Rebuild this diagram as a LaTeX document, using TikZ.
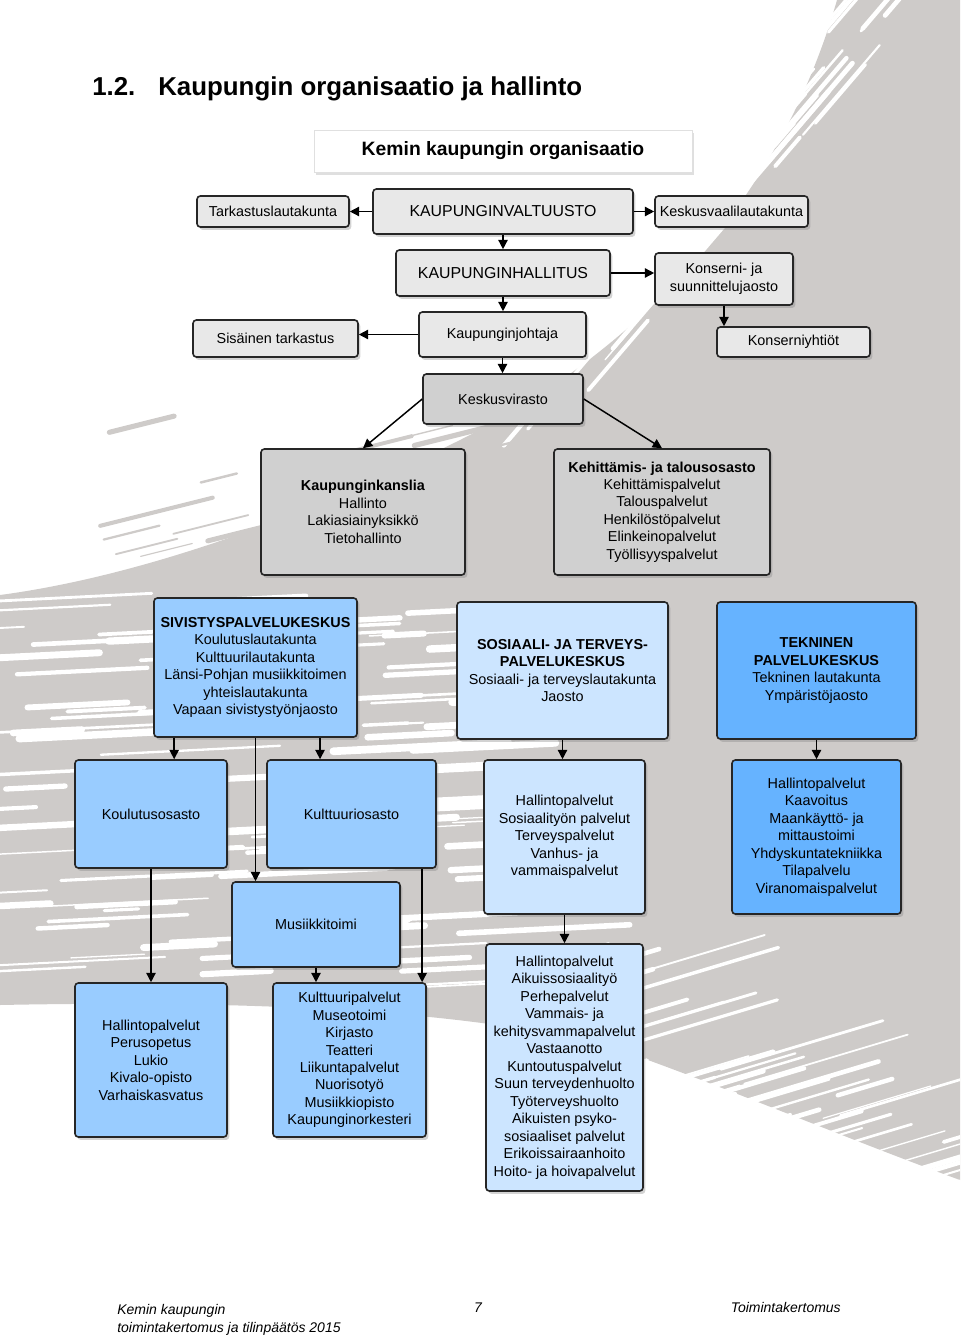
\documentclass[tikz,border=0pt]{standalone}
\usepackage{fontspec}
\setmainfont{Liberation Sans}
\usetikzlibrary{arrows.meta,positioning,shadows}

\definecolor{bggray}{RGB}{206,203,201}
\definecolor{boxgray}{RGB}{232,232,232}
\definecolor{boxdark}{RGB}{208,208,208}
\definecolor{sivblue}{RGB}{153,204,255}
\definecolor{sosblue}{RGB}{204,229,255}
\definecolor{tekblue}{RGB}{102,179,255}

\newcommand\orgfont{\fontsize{10.8pt}{13.1pt}\selectfont}
\newcommand\capfont{\fontsize{11.9pt}{14pt}\selectfont}
\newcommand\ttlfont{\fontsize{14.5pt}{17pt}\selectfont\bfseries}
\newcommand\hdfont{\fontsize{19.4pt}{22pt}\selectfont\bfseries}
\newcommand\ftfont{\fontsize{10.5pt}{13pt}\selectfont\itshape}

\begin{document}
\begin{tikzpicture}[x=0.75pt, y=-0.75pt, >={Triangle[length=7pt,width=7pt]},
  orgbox/.style={draw=black!85, line width=1.2pt, rounded corners=2.5pt, align=center,
    font=\orgfont, inner sep=2pt,
    drop shadow={shadow xshift=1.8pt, shadow yshift=-2.2pt, opacity=0.35}},
  graybox/.style={orgbox, fill=boxgray},
  darkbox/.style={orgbox, fill=boxdark},
  sivbox/.style={orgbox, fill=sivblue},
  sosbox/.style={orgbox, fill=sosblue},
  tekbox/.style={orgbox, fill=tekblue},
  conn/.style={->, line width=1.1pt}]
  \useasboundingbox (0,0) rectangle (960,1338);

  % brush stroke in the background
  \begin{scope}
    \clip (0,0) rectangle (960,1338);
    \fill[bggray] (837,0) -- (960,0) -- (960,1180)
      .. controls (850,1140) and (720,1085) .. (620,1050)
      .. controls (480,1010) and (250,1000) .. (0,1005) -- (0,595)
      .. controls (150,575) and (320,510) .. (460,440)
      .. controls (640,350) and (780,200) .. (837,0) -- cycle;
    \pgfmathsetseed{2015}
    % streaks in the left sweep
    \foreach \i in {1,...,110}{
      \pgfmathsetmacro\sx{-40+rnd*500}
      \pgfmathsetmacro\sy{600+rnd*400}
      \pgfmathsetmacro\sl{30+rnd*170}
      \pgfmathsetmacro\sw{0.8+rnd*5}
      \draw[white, line width=\sw pt, line cap=round] (\sx,\sy) -- ++(\sl,-0.05*\sl);
    }
    % streaks along the upper edge
    \foreach \i in {1,...,45}{
      \pgfmathsetmacro\su{rnd}
      \pgfmathsetmacro\sd{rnd*70}
      \pgfmathsetmacro\sl{30+rnd*120}
      \pgfmathsetmacro\sw{0.8+rnd*3}
      \draw[white, line width=\sw pt, line cap=round]
        (837-377*\su+\sd,440*\su+0.3*\sd) -- ++(0.65*\sl,-0.76*\sl);
    }
    \foreach \i in {1,...,40}{
      \pgfmathsetmacro\sx{100+rnd*460}
      \pgfmathsetmacro\sy{430+rnd*150}
      \pgfmathsetmacro\sl{30+rnd*140}
      \pgfmathsetmacro\sw{0.8+rnd*3.5}
      \draw[bggray, line width=\sw pt, line cap=round] (\sx,\sy) -- ++(\sl,-0.25*\sl);
    }
    % streaks along the lower edge
    \foreach \i in {1,...,55}{
      \pgfmathsetmacro\sx{480+rnd*480}
      \pgfmathsetmacro\sy{1010+0.37*(\sx-480)-50+rnd*120}
      \pgfmathsetmacro\sl{40+rnd*160}
      \pgfmathsetmacro\sw{0.8+rnd*3}
      \draw[white, line width=\sw pt, line cap=round] (\sx,\sy) -- ++(\sl,-0.3*\sl);
    }
  \end{scope}

  % heading
  \node[anchor=base west, font=\hdfont, inner sep=0pt] (secnum) at (92,95) {1.2.};
  \node[anchor=base west, font=\hdfont, inner sep=0pt] (sectitle) at (158,95) {Kaupungin organisaatio ja hallinto};

  \node[fill=white, draw=black!12, line width=0.6pt, font=\ttlfont,
    drop shadow={shadow xshift=1.5pt, shadow yshift=-2pt, opacity=0.25},
    minimum width=283.5pt, minimum height=31.5pt] (orgtitle) at (503,151) {Kemin kaupungin organisaatio};

  % top management
  \node[graybox, minimum width=114pt, minimum height=23.25pt] (tark) at (273,211.5) {Tarkastuslautakunta};
  \node[graybox, font=\capfont, minimum width=195pt, minimum height=33.75pt] (valt) at (503,211.5) {KAUPUNGINVALTUUSTO};
  \node[graybox, minimum width=114.75pt, minimum height=23.25pt] (vaali) at (731.5,211.5) {Keskusvaalilautakunta};
  \node[graybox, font=\capfont, minimum width=160.5pt, minimum height=34.5pt] (hall) at (503,273) {KAUPUNGINHALLITUS};
  \node[graybox, minimum width=103.5pt, minimum height=39pt] (konserni) at (724,279) {Konserni- ja\\suunnittelujaosto};
  \node[graybox, minimum width=123.75pt, minimum height=27.75pt] (sisainen) at (275.5,338.5) {Sisäinen tarkastus};
  \node[graybox, minimum width=125.25pt, minimum height=33.75pt] (johtaja) at (502.5,334.5) {Kaupunginjohtaja};
  \node[graybox, minimum width=114.75pt, minimum height=22.5pt] (yhtiot) at (793.5,342) {Konserniyhtiöt};
  \node[darkbox, minimum width=120pt, minimum height=37.5pt] (virasto) at (503,399) {Keskusvirasto};
  \node[darkbox, minimum width=153pt, minimum height=94.5pt] (kanslia) at (363,512)
    {\textbf{Kaupunginkanslia}\\Hallinto\\Lakiasiainyksikkö\\Tietohallinto};
  \node[darkbox, minimum width=162pt, minimum height=94.5pt] (kehitys) at (662,512)
    {\textbf{Kehittämis- ja talousosasto}\\Kehittämispalvelut\\Talouspalvelut\\Henkilöstöpalvelut\\Elinkeinopalvelut\\Työllisyyspalvelut};

  % service centres
  \node[sivbox, minimum width=152.25pt, minimum height=104.25pt] (sivis) at (255.5,667.5)
    {\textbf{SIVISTYSPALVELUKESKUS}\\Koulutuslautakunta\\Kulttuurilautakunta\\Länsi-Pohjan musiikkitoimen\\yhteislautakunta\\Vapaan sivistystyönjaosto};
  \node[sosbox, minimum width=158.25pt, minimum height=102.75pt] (sos) at (562.5,670.5)
    {\textbf{SOSIAALI- JA TERVEYS-}\\\textbf{PALVELUKESKUS}\\Sosiaali- ja terveyslautakunta\\Jaosto};
  \node[tekbox, minimum width=149.25pt, minimum height=102.75pt] (tek) at (816.5,670.5)
    {\textbf{TEKNINEN}\\\textbf{PALVELUKESKUS}\\Tekninen lautakunta\\Ympäristöjaosto};

  \node[sivbox, minimum width=114pt, minimum height=81pt] (koulos) at (151,814) {Koulutusosasto};
  \node[sivbox, minimum width=126.75pt, minimum height=81pt] (kultos) at (351.5,814) {Kulttuuriosasto};
  \node[sosbox, minimum width=120.75pt, minimum height=115.5pt] (soshall) at (564.5,837)
    {Hallintopalvelut\\Sosiaalityön palvelut\\Terveyspalvelut\\Vanhus- ja\\vammaispalvelut};
  \node[tekbox, minimum width=126.75pt, minimum height=115.5pt] (tekhall) at (816.5,837)
    {Hallintopalvelut\\Kaavoitus\\Maankäyttö- ja\\mittaustoimi\\Yhdyskuntatekniikka\\Tilapalvelu\\Viranomaispalvelut};
  \node[sivbox, minimum width=126pt, minimum height=63.75pt] (musiikki) at (316,924.5) {Musiikkitoimi};
  \node[sivbox, minimum width=114pt, minimum height=115.5pt] (koulpalv) at (151,1060)
    {Hallintopalvelut\\Perusopetus\\Lukio\\Kivalo-opisto\\Varhaiskasvatus};
  \node[sivbox, minimum width=114.75pt, minimum height=115.5pt] (kultpalv) at (349.5,1060)
    {Kulttuuripalvelut\\Museotoimi\\Kirjasto\\Teatteri\\Liikuntapalvelut\\Nuorisotyö\\Musiikkiopisto\\Kaupunginorkesteri};
  \node[sosbox, minimum width=117.75pt, minimum height=185.25pt] (aikuis) at (564.5,1067.5)
    {Hallintopalvelut\\Aikuissosiaalityö\\Perhepalvelut\\Vammais- ja\\kehitysvammapalvelut\\Vastaanotto\\Kuntoutuspalvelut\\Suun terveydenhuolto\\Työterveyshuolto\\Aikuisten psyko-\\sosiaaliset palvelut\\Erikoissairaanhoito\\Hoito- ja hoivapalvelut};

  % connectors
  \draw[conn] (valt.west) -- (tark.east);
  \draw[conn] (valt.east) -- (vaali.west);
  \draw[conn] (valt.south) -- (hall.north);
  \draw[conn] (hall.east) -- (hall.east -| konserni.west);
  \draw[conn] (hall.south) -- (hall.south |- johtaja.north);
  \draw[conn] (konserni.south) -- (konserni.south |- yhtiot.north);
  \draw[conn] (johtaja.west) -- (johtaja.west -| sisainen.east);
  \draw[conn] (johtaja.south) -- (johtaja.south |- virasto.north);
  \draw[conn] (virasto.west) -- (kanslia.north);
  \draw[conn] (virasto.east) -- (kehitys.north);
  \draw[conn] ([xshift=-61pt]sivis.south) -- ([xshift=-61pt]sivis.south |- koulos.north);
  \draw[conn] ([xshift=48.4pt]sivis.south) -- ([xshift=48.4pt]sivis.south |- kultos.north);
  \draw[conn] (sivis.south) -- (sivis.south |- musiikki.north);
  \draw[conn] (sos.south) -- (sos.south |- soshall.north);
  \draw[conn] (tek.south) -- (tekhall.north);
  \draw[conn] (koulos.south) -- (koulpalv.north);
  \draw[conn] ([xshift=-11pt]kultos.south east) -- ([xshift=-11pt]kultos.south east |- kultpalv.north);
  \draw[conn] (musiikki.south) -- (musiikki.south |- kultpalv.north);
  \draw[conn] (soshall.south) -- (aikuis.north);

  % footer
  \node[anchor=base west, font=\ftfont, inner sep=0pt] (footl) at (117,1314) {Kemin kaupungin};
  \node[anchor=base west, font=\ftfont, inner sep=0pt] (footl2) at (117,1332) {toimintakertomus ja tilinpäätös 2015};
  \node[anchor=base, font=\ftfont, inner sep=0pt] (footpage) at (478,1312) {7};
  \node[anchor=base east, font=\ftfont, inner sep=0pt] (footr) at (841,1312) {Toimintakertomus};
\end{tikzpicture}
\end{document}
